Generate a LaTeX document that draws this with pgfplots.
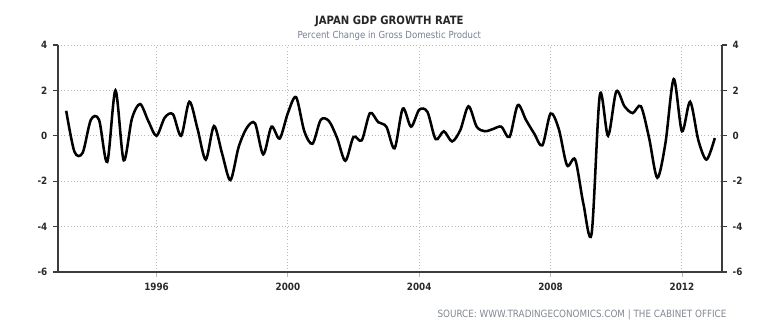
\documentclass[border=0pt]{standalone}
\usepackage{fontspec}
\setmainfont{DejaVu Sans}[FakeStretch=0.88]
\usepackage{pgfplots}
\usepackage{pgfplotstable}
\pgfplotsset{compat=1.18}
\definecolor{axisgray}{RGB}{60,60,60}
\definecolor{gridgray}{RGB}{185,185,185}
\definecolor{subgray}{RGB}{118,128,146}
\definecolor{srcgray}{RGB}{130,136,146}
\definecolor{labgray}{RGB}{40,40,40}

\pgfplotstableread{
year val
1993.25 1.1
1993.50 -0.7
1993.75 -0.75
1994.00 0.7
1994.25 0.7
1994.50 -1.15
1994.75 2.0
1995.00 -1.08
1995.25 0.75
1995.50 1.4
1995.75 0.65
1996.00 0.0
1996.25 0.8
1996.50 0.95
1996.75 0.0
1997.00 1.5
1997.25 0.3
1997.50 -1.05
1997.75 0.43
1998.00 -0.8
1998.25 -1.95
1998.50 -0.5
1998.75 0.35
1999.00 0.55
1999.25 -0.82
1999.50 0.4
1999.75 -0.12
2000.00 1.0
2000.25 1.7
2000.50 0.2
2000.75 -0.35
2001.00 0.7
2001.25 0.65
2001.50 -0.1
2001.75 -1.1
2002.00 -0.05
2002.25 -0.2
2002.50 1.0
2002.75 0.6
2003.00 0.4
2003.25 -0.55
2003.50 1.2
2003.75 0.4
2004.00 1.15
2004.25 1.05
2004.50 -0.15
2004.75 0.2
2005.00 -0.25
2005.25 0.25
2005.50 1.3
2005.75 0.4
2006.00 0.2
2006.25 0.3
2006.50 0.4
2006.75 -0.05
2007.00 1.35
2007.25 0.7
2007.50 0.1
2007.75 -0.42
2008.00 0.98
2008.25 0.3
2008.50 -1.3
2008.75 -1.05
2009.00 -3.0
2009.25 -4.3
2009.50 1.8
2009.75 0.0
2010.00 1.95
2010.25 1.3
2010.50 1.0
2010.75 1.3
2011.00 -0.1
2011.25 -1.85
2011.50 -0.3
2011.75 2.5
2012.00 0.2
2012.25 1.5
2012.50 -0.2
2012.75 -1.05
2013.00 -0.1
}\gdp

\pgfplotsset{
  base/.style={
    at={(43.5pt,44.25pt)}, anchor=south west,
    scale only axis, width=498pt, height=170.25pt,
    xmin=1993, xmax=2013.22, ymin=-6, ymax=4,
    ytick={-6,-4,-2,0,2,4},
    /pgf/number format/assume math mode=true,
    /pgf/number format/1000 sep={},
    tick align=outside,
    major tick length=3.5pt,
    tick style={axisgray, line width=1pt},
    yticklabel style={font=\bfseries\fontsize{7.5}{9}\selectfont, text=labgray},
    xticklabel style={font=\bfseries\fontsize{7.5}{9}\selectfont, text=labgray},
  }
}

\begin{document}
\begin{tikzpicture}
\path[use as bounding box] (0pt,0pt) rectangle (585pt,248.25pt);
\begin{axis}[base,
  axis x line*=bottom, axis y line*=left,
  x axis line style={-, draw=axisgray, line width=1.2pt},
  y axis line style={-, draw=axisgray, line width=1.2pt},
  xtick={1996,2000,2004,2008,2012},
  xtick style={gridgray, line width=0.6pt},
  grid=major,
  major grid style={dotted, gridgray, line width=0.7pt},
  yticklabel style={xshift=-1pt},
  xticklabel style={yshift=-1pt},
]
\addplot[black, line width=1.9pt, smooth] table[x=year, y=val]{\gdp};
\end{axis}
\begin{axis}[base,
  axis y line*=right, axis x line=none,
  y axis line style={-, draw=axisgray, line width=1.2pt},
  yticklabel style={xshift=1pt},
]
\end{axis}
\node[anchor=base, font=\bfseries\fontsize{8.6}{10}\selectfont, text=black!85] at (292pt,229.5pt) {JAPAN GDP GROWTH RATE};
\node[anchor=base, font=\fontsize{7.3}{8}\selectfont, text=subgray] at (292pt,219pt) {Percent Change in Gross Domestic Product};
\node[anchor=base, font=\fontsize{7.5}{8}\selectfont, text=srcgray] at (436.5pt,10pt) {SOURCE: WWW.TRADINGECONOMICS.COM | THE CABINET OFFICE};
\end{tikzpicture}
\end{document}
